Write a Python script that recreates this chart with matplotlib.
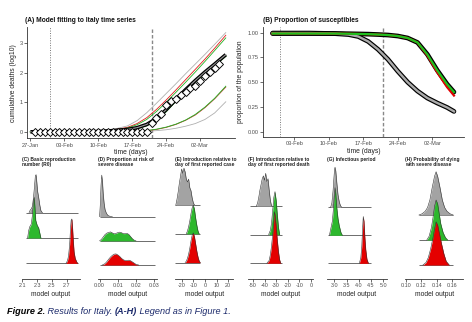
import numpy as np
import pandas as pd
import matplotlib
matplotlib.use('Agg')
import matplotlib.pyplot as plt
import matplotlib.dates as mdates

plt.rcParams['font.family'] = ['Liberation Sans', 'DejaVu Sans']
plt.rcParams['axes.linewidth'] = 0.6
plt.rcParams['xtick.major.size'] = 2
plt.rcParams['ytick.major.size'] = 2
plt.rcParams['xtick.major.width'] = 0.5
plt.rcParams['ytick.major.width'] = 0.5
plt.rcParams['xtick.major.pad'] = 1.2
plt.rcParams['ytick.major.pad'] = 1.2

W, H = 472, 322
DAY0 = pd.Timestamp('2020-01-27')
FIRST_CASE = 4     # 31-Jan
FIRST_DEATH = 25   # 21-Feb

# ---- (A) observed cumulative deaths, log10 ----
obs_start, obs_end = '2020-01-28', '2020-03-06'
obs_log_deaths = [0] * 24 + [0.30, 0.48, 0.60, 0.90, 1.04, 1.11, 1.26, 1.34,
                             1.48, 1.54, 1.72, 1.90, 2.03, 2.17, 2.30]

# model trajectories (days since 27-Jan)
days_a = [0, 10, 14, 17, 20, 22, 24, 26, 28, 30, 32, 34, 36, 38, 40.3]
upper_gray = [0, 0, 0.03, 0.08, 0.20, 0.38, 0.65, 0.97, 1.30, 1.63, 1.97, 2.30, 2.63, 2.97, 3.37]
upper_red = [0, 0, 0.02, 0.06, 0.15, 0.28, 0.48, 0.76, 1.08, 1.42, 1.77, 2.12, 2.47, 2.84, 3.28]
upper_green = [0, 0, 0.02, 0.05, 0.13, 0.24, 0.42, 0.69, 1.00, 1.34, 1.68, 2.03, 2.39, 2.76, 3.19]
median_fit = [0, 0, 0.01, 0.04, 0.08, 0.14, 0.25, 0.45, 0.75, 1.10, 1.43, 1.74, 2.03, 2.30, 2.62]
median_green = [0, 0, 0.01, 0.03, 0.06, 0.11, 0.21, 0.40, 0.69, 1.04, 1.37, 1.68, 1.97, 2.25, 2.57]
lower_red = [0, 0, 0, 0.01, 0.02, 0.03, 0.04, 0.08, 0.15, 0.25, 0.39, 0.57, 0.82, 1.12, 1.52]
lower_green = [0, 0, 0, 0.01, 0.02, 0.03, 0.04, 0.09, 0.16, 0.26, 0.40, 0.59, 0.84, 1.14, 1.55]
lower_gray = [0, 0, 0, 0, 0.01, 0.01, 0.02, 0.04, 0.07, 0.12, 0.19, 0.28, 0.42, 0.64, 1.02]

# ---- (B) proportion susceptible ----
days_b = [2.6, 10, 15, 18, 20, 22, 24, 26, 28, 30, 32, 34, 36, 38, 39.4]
susc_gray = [0.995, 0.995, 0.99, 0.98, 0.96, 0.91, 0.83, 0.73, 0.61, 0.50, 0.41, 0.34, 0.29, 0.245, 0.205]
susc_green = [0.99, 0.99, 0.99, 0.988, 0.986, 0.984, 0.98, 0.975, 0.965, 0.945, 0.90, 0.78, 0.62, 0.48, 0.40]
susc_red = [0.99, 0.99, 0.99, 0.988, 0.986, 0.984, 0.98, 0.975, 0.965, 0.945, 0.90, 0.77, 0.60, 0.45, 0.365]

# ---- (C)-(H) posterior ridges: (x, height in row units) ----
ridges = {
    'C': {
        'gray': ([2.19, 2.205, 2.22, 2.235, 2.25, 2.265, 2.275, 2.285, 2.295, 2.305, 2.32, 2.335, 2.35, 2.37],
                 [0, 0.1, 0.15, 0.25, 0.6, 1.1, 1.45, 1.5, 1.2, 0.85, 0.6, 0.3, 0.08, 0]),
        'green': ([2.17, 2.185, 2.2, 2.22, 2.235, 2.25, 2.26, 2.27, 2.28, 2.3, 2.32, 2.335, 2.35],
                  [0, 0.3, 0.45, 0.55, 0.9, 1.5, 1.6, 1.2, 0.7, 0.5, 0.4, 0.2, 0]),
        'red': ([2.69, 2.71, 2.725, 2.74, 2.75, 2.76, 2.77, 2.78, 2.79, 2.80, 2.815, 2.835, 2.85],
                [0, 0.1, 0.3, 0.75, 1.3, 1.7, 1.75, 1.35, 0.85, 0.45, 0.2, 0.06, 0]),
    },
    'D': {
        'gray': ([0.0, 0.0004, 0.0008, 0.0012, 0.0016, 0.002, 0.0025, 0.003, 0.0037, 0.0045, 0.0055, 0.007],
                 [0, 0.5, 1.3, 1.72, 1.45, 0.95, 0.55, 0.3, 0.15, 0.06, 0.02, 0]),
        'green': ([0.0, 0.001, 0.002, 0.003, 0.004, 0.005, 0.006, 0.007, 0.008, 0.009, 0.010,
                   0.011, 0.012, 0.013, 0.014, 0.015, 0.016, 0.017, 0.018, 0.019, 0.020],
                  [0, 0.06, 0.16, 0.26, 0.32, 0.35, 0.37, 0.33, 0.29, 0.31, 0.34,
                   0.36, 0.34, 0.3, 0.3, 0.31, 0.27, 0.18, 0.09, 0.03, 0]),
        'red': ([0.0015, 0.003, 0.004, 0.005, 0.006, 0.007, 0.008, 0.009, 0.010, 0.011,
                 0.012, 0.013, 0.014, 0.015, 0.016, 0.017, 0.018, 0.019, 0.020, 0.0215],
                [0, 0.06, 0.14, 0.24, 0.33, 0.4, 0.45, 0.46, 0.42, 0.36,
                 0.28, 0.22, 0.19, 0.19, 0.2, 0.18, 0.13, 0.08, 0.03, 0]),
    },
    'E': {
        'gray': ([-25, -24, -23, -22, -21, -20, -19, -18, -17, -16, -15, -14, -13, -12, -11, -10, -9],
                 [0, 0.2, 0.45, 0.75, 1.0, 1.25, 1.1, 1.28, 1.15, 0.9, 0.8, 0.9, 0.6, 0.5, 0.25, 0.08, 0]),
        'green': ([-16, -15, -14, -13, -12, -11, -10, -9, -8, -7, -6, -5],
                  [0, 0.1, 0.25, 0.45, 0.7, 0.9, 1.0, 0.85, 0.55, 0.3, 0.1, 0]),
        'red': ([-17, -16, -15, -14, -13, -12, -11, -10, -9, -8, -7, -6, -5, -4],
                [0, 0.05, 0.15, 0.3, 0.5, 0.75, 0.95, 1.03, 0.9, 0.65, 0.4, 0.2, 0.06, 0]),
    },
    'F': {
        'gray': ([-47, -46, -45, -44, -43, -42, -41, -40, -39, -38, -37, -36, -35, -34],
                 [0, 0.1, 0.3, 0.55, 0.75, 0.95, 1.05, 0.9, 1.14, 0.85, 0.95, 0.55, 0.2, 0]),
        'green': ([-36.5, -35, -34, -33, -32, -31, -30, -29, -28, -27],
                  [0, 0.15, 0.4, 0.85, 1.3, 1.5, 1.2, 0.7, 0.25, 0]),
        'red': ([-38, -36, -35, -34, -33, -32, -31.5, -31, -30, -29, -28, -27, -26],
                [0, 0.1, 0.3, 0.6, 1.0, 1.5, 1.8, 1.7, 1.3, 0.8, 0.4, 0.12, 0]),
    },
    'G': {
        'gray': ([2.85, 2.9, 2.95, 2.98, 3.01, 3.03, 3.06, 3.1, 3.15, 3.2, 3.25, 3.3],
                 [0, 0.15, 0.6, 1.0, 1.35, 1.43, 1.3, 0.9, 0.45, 0.2, 0.06, 0]),
        'green': ([2.8, 2.86, 2.92, 2.96, 3.0, 3.03, 3.06, 3.1, 3.15, 3.2, 3.27, 3.33],
                  [0, 0.25, 0.5, 0.9, 1.4, 1.7, 1.5, 1.0, 0.6, 0.35, 0.1, 0]),
        'red': ([4.02, 4.08, 4.12, 4.15, 4.18, 4.21, 4.24, 4.28, 4.33, 4.39],
                [0, 0.2, 0.6, 1.2, 1.67, 1.5, 1.0, 0.5, 0.15, 0]),
    },
    'H': {
        'gray': ([0.117, 0.121, 0.125, 0.128, 0.131, 0.134, 0.137, 0.139, 0.141, 0.144, 0.147, 0.150, 0.153, 0.157, 0.161],
                 [0, 0.05, 0.15, 0.3, 0.6, 1.1, 1.55, 1.73, 1.55, 1.1, 0.6, 0.3, 0.15, 0.05, 0]),
        'green': ([0.127, 0.13, 0.133, 0.135, 0.137, 0.139, 0.141, 0.143, 0.145, 0.148, 0.151, 0.154],
                  [0, 0.15, 0.5, 0.9, 1.35, 1.6, 1.45, 1.05, 0.65, 0.3, 0.1, 0]),
        'red': ([0.122, 0.126, 0.129, 0.132, 0.135, 0.137, 0.139, 0.141, 0.143, 0.146, 0.149, 0.152, 0.156],
                [0, 0.1, 0.3, 0.65, 1.1, 1.45, 1.73, 1.6, 1.3, 0.85, 0.45, 0.15, 0]),
    },
}

titles = {
    'C': '(C) Basic reproduction\nnumber (R0)',
    'D': '(D) Proportion at risk of\nsevere disease',
    'E': '(E) Introduction relative to\nday of first reported case',
    'F': '(F) Introduction relative to\nday of first reported death',
    'G': '(G) Infectious period',
    'H': '(H) Probability of dying\nwith severe disease',
}
ticks = {
    'C': [2.1, 2.3, 2.5, 2.7],
    'D': [0.00, 0.01, 0.02, 0.03],
    'E': [-20, -10, 0, 10, 20],
    'F': [-50, -40, -30, -20, -10, 0],
    'G': [3.0, 3.5, 4.0, 4.5, 5.0],
    'H': [0.10, 0.12, 0.14, 0.16],
}
tick_fmt = {'C': '{:.1f}', 'D': '{:.2f}', 'E': '{:.0f}', 'F': '{:.0f}', 'G': '{:.1f}', 'H': '{:.2f}'}

# panel layout: x-limits, y-limits, baseline extent, pixel left/right
xlims = {'C': (2.09, 2.88), 'D': (-0.0007, 0.0314), 'E': (-25.7, 24.3),
         'F': (-54, 2), 'G': (2.69, 5.16), 'H': (0.099, 0.174)}
ylims = {'C': (0.37, 4.96), 'D': (0.41, 5.22), 'E': (0.42, 4.46),
         'F': (0.44, 4.50), 'G': (0.43, 4.58), 'H': (0.43, 5.08)}
spans = {'C': (2.155, 2.855), 'D': (0.0, 0.0305), 'E': (-25.5, -4.0),
         'F': (-52.5, -25.0), 'G': (2.76, 4.49), 'H': (0.117, 0.161)}
px_lr = {'C': (21.7, 80), 'D': (98.3, 156.7), 'E': (175, 233.3),
         'F': (248.3, 313.3), 'G': (326.7, 387.3), 'H': (405, 463.3)}

FILL = {'gray': '#A3A3A3', 'green': '#2DB82D', 'red': '#E40000'}
ROW = {'gray': 3, 'green': 2, 'red': 1}
TICK_COL = '#4D4D4D'
AX_COL = '#333333'
LABEL_COL = '#222222'

fig = plt.figure(figsize=(W / 100, H / 100), dpi=100)
fig.patch.set_facecolor('white')


def px_axes(l, t, r, b):
    return fig.add_axes([l / W, 1 - b / H, (r - l) / W, (b - t) / H])


def to_dates(days):
    return DAY0 + pd.to_timedelta(np.asarray(days, dtype=float), unit='D')


def style_classic(ax, fs=4.1):
    for s in ['top', 'right']:
        ax.spines[s].set_visible(False)
    for s in ['left', 'bottom']:
        ax.spines[s].set_color(AX_COL)
    ax.tick_params(labelsize=fs, colors=AX_COL, labelcolor=TICK_COL)


date_ticks = pd.to_datetime(['2020-01-27', '2020-02-03', '2020-02-10',
                             '2020-02-17', '2020-02-24', '2020-03-02'])

# ---------------- (A) ----------------
ax_a = px_axes(27, 27, 235, 138.3)
style_classic(ax_a)
ax_a.axvline(to_dates([FIRST_CASE])[0], color='#777777', lw=0.7, ls=(0, (1, 1.5)))
ax_a.axvline(to_dates([FIRST_DEATH])[0], color='#888888', lw=1.0, ls=(0, (2.5, 1.5)))
da = to_dates(days_a)
ax_a.plot(da, upper_gray, color='#AFAFAF', lw=0.6)
ax_a.plot(da, lower_gray, color='#AFAFAF', lw=0.6)
ax_a.plot(da, upper_red, color='#E41A1C', lw=0.6)
ax_a.plot(da, upper_green, color='#22B022', lw=0.6)
ax_a.plot(da, lower_red, color='#C0392B', lw=0.6)
ax_a.plot(da, lower_green, color='#22B022', lw=0.6)
ax_a.plot(da, median_green, color='#22B022', lw=0.9)
ax_a.plot(da, median_fit, color='black', lw=2.6, solid_capstyle='butt')
ax_a.plot(da, median_fit, color='#9A9A9A', lw=0.8)
obs_dates = pd.date_range(obs_start, obs_end, freq='D')
ax_a.plot(obs_dates, obs_log_deaths, ls='none', marker='D', ms=4.2,
          mfc='white', mec='black', mew=0.65, zorder=5)
ax_a.set_xlim(to_dates([-0.7])[0], to_dates([42.2])[0])
ax_a.set_ylim(-0.22, 3.56)
ax_a.set_yticks([0, 1, 2, 3])
ax_a.set_xticks(date_ticks)
ax_a.xaxis.set_major_formatter(mdates.DateFormatter('%d-%b'))
ax_a.set_ylabel('cumulative deaths (log10)', fontsize=4.9, color=LABEL_COL, labelpad=2)
ax_a.set_xlabel('time (days)', fontsize=4.9, color=LABEL_COL, labelpad=1)
fig.text(25 / W, 1 - 20 / H, '(A) Model fitting to Italy time series',
         fontsize=4.8, weight='bold', va='center', ha='left', color='#111111')

# ---------------- (B) ----------------
ax_b = px_axes(262.7, 27, 464.3, 136.7)
style_classic(ax_b)
ax_b.axvline(to_dates([FIRST_CASE])[0], color='#777777', lw=0.7, ls=(0, (1, 1.5)))
ax_b.axvline(to_dates([FIRST_DEATH])[0], color='#888888', lw=1.0, ls=(0, (2.5, 1.5)))
db = to_dates(days_b)
for vals in (susc_gray, susc_green):
    ax_b.plot(db, vals, color='black', lw=3.4, solid_capstyle='round')
ax_b.plot(db, susc_gray, color='#ABABAB', lw=1.7)
ax_b.plot(db, susc_red, color='#E00000', lw=1.6)
ax_b.plot(db, susc_green, color='#1FC01F', lw=1.6)
ax_b.set_xlim(to_dates([0.59])[0], to_dates([41.5])[0])
ax_b.set_ylim(-0.05, 1.056)
ax_b.set_yticks([0, 0.25, 0.5, 0.75, 1.0])
ax_b.set_yticklabels(['0.00', '0.25', '0.50', '0.75', '1.00'])
ax_b.set_xticks(date_ticks[1:])
ax_b.xaxis.set_major_formatter(mdates.DateFormatter('%d-%b'))
ax_b.set_ylabel('proportion of the population', fontsize=4.9, color=LABEL_COL, labelpad=2)
ax_b.set_xlabel('time (days)', fontsize=4.9, color=LABEL_COL, labelpad=1)
fig.text(263 / W, 1 - 20 / H, '(B) Proportion of susceptibles',
         fontsize=4.8, weight='bold', va='center', ha='left', color='#111111')

# ---------------- (C)-(H) ridges ----------------
for key in ['C', 'D', 'E', 'F', 'G', 'H']:
    l, r = px_lr[key]
    ax = px_axes(l, 163, r, 279.3)
    for s in ['top', 'right', 'left']:
        ax.spines[s].set_visible(False)
    ax.spines['bottom'].set_color(AX_COL)
    ax.tick_params(axis='x', labelsize=3.9, colors=AX_COL, labelcolor=TICK_COL, pad=1)
    ax.set_yticks([])
    lo, hi = spans[key]
    z = 1
    for name in ['gray', 'green', 'red']:
        xs, hs = ridges[key][name]
        row = ROW[name]
        ax.hlines(row, lo, hi, color='#333333', lw=0.5, zorder=z)
        ax.fill_between(xs, row, np.asarray(hs) + row, color=FILL[name],
                        lw=0, zorder=z + 1)
        ax.plot(xs, np.asarray(hs) + row, color='#333333', lw=0.4, zorder=z + 2)
        z += 3
    ax.set_xlim(*xlims[key])
    ax.set_ylim(*ylims[key])
    ax.set_xticks(ticks[key])
    ax.set_xticklabels([tick_fmt[key].format(t) for t in ticks[key]])
    ax.set_xlabel('model output', fontsize=4.9, color=LABEL_COL, labelpad=1.5)
    fig.text(l / W, 1 - 157.5 / H, titles[key], fontsize=3.5, weight='bold',
             ha='left', va='top', linespacing=1.0, color='#222222')

# ---------------- caption ----------------
renderer = fig.canvas.get_renderer()
navy = '#1C2A6B'
pieces = [('Figure 2.', 'bold', 'black'), (' Results for Italy. ', 'normal', navy),
          ('(A-H)', 'bold', navy), (' Legend as in Figure 1.', 'normal', navy)]
xpos = 7
for txt, wt, col in pieces:
    t = fig.text(xpos / W, 1 - 312 / H, txt, fontsize=6.6, style='italic',
                 weight=wt, color=col, va='center', ha='left')
    xpos = t.get_window_extent(renderer).x1

fig.savefig('out.png', dpi=100, facecolor='white')
